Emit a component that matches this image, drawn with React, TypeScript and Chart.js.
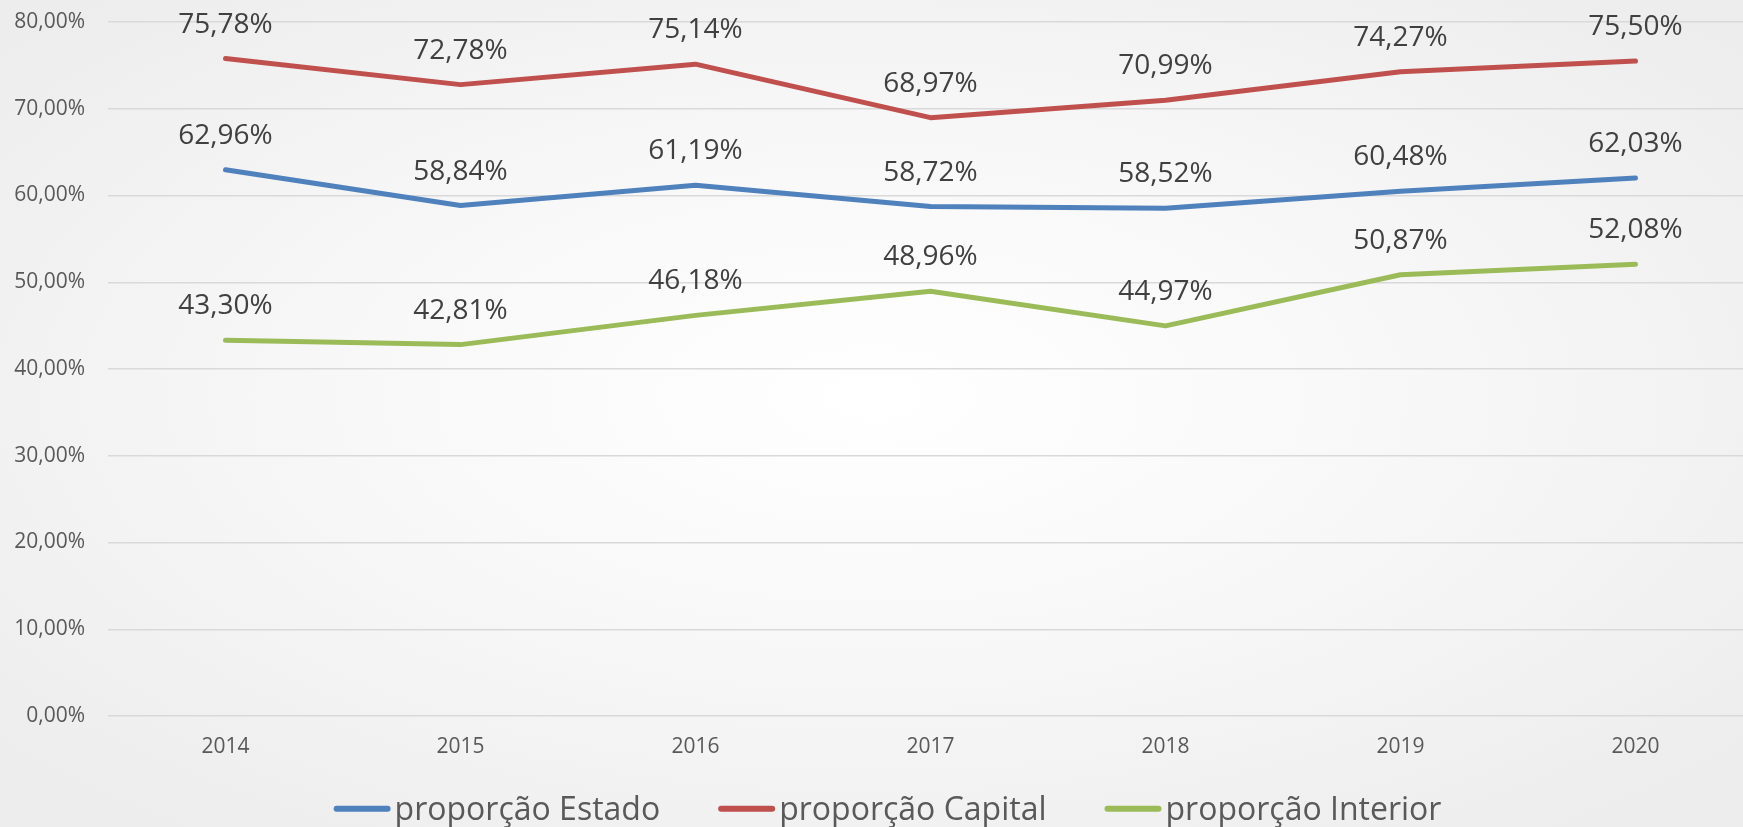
import React, { useEffect, useRef } from "react";
import { Chart, registerables } from "chart.js";

Chart.register(...registerables);

const categories = ["2014", "2015", "2016", "2017", "2018", "2019", "2020"];
const estado = [62.96, 58.84, 61.19, 58.72, 58.52, 60.48, 62.03];
const capital = [75.78, 72.78, 75.14, 68.97, 70.99, 74.27, 75.5];
const interior = [43.3, 42.81, 46.18, 48.96, 44.97, 50.87, 52.08];
const seriesLabels = ["proporção Estado", "proporção Capital", "proporção Interior"];
const seriesColors = ["#4F81BD", "#C0504D", "#9BBB59"];

const FONT = "'Open Sans', 'DejaVu Sans', sans-serif";

const fmt = (v: number) => v.toFixed(2).replace(".", ",") + "%";

const dataLabelPlugin = {
  id: "dataLabels",
  afterDatasetsDraw(chart: any) {
    const ctx = chart.ctx;
    ctx.save();
    ctx.font = `28px ${FONT}`;
    ctx.fillStyle = "#404040";
    ctx.textAlign = "center";
    ctx.textBaseline = "alphabetic";
    chart.data.datasets.forEach((ds: any, i: number) => {
      const meta = chart.getDatasetMeta(i);
      meta.data.forEach((pt: any, j: number) => {
        ctx.fillText(fmt(ds.data[j]), pt.x, pt.y - 26);
      });
    });
    ctx.restore();
  },
};

const legendPlugin = {
  id: "customLegend",
  afterDraw(chart: any) {
    const ctx = chart.ctx;
    ctx.save();
    ctx.font = `32px ${FONT}`;
    const lineW = 57;
    const gap = 4;
    const spacing = 58;
    const items = chart.data.datasets.map((ds: any) => ({
      label: ds.label,
      color: ds.borderColor,
      w: ctx.measureText(ds.label).width,
    }));
    const total =
      items.reduce((s: number, it: any) => s + lineW + gap + it.w, 0) + spacing * (items.length - 1);
    let x = 887.5 - total / 2;
    const lineY = 808.7;
    const baseY = 820;
    items.forEach((it: any) => {
      ctx.strokeStyle = it.color;
      ctx.lineWidth = 6;
      ctx.lineCap = "round";
      ctx.beginPath();
      ctx.moveTo(x + 3, lineY);
      ctx.lineTo(x + lineW - 3, lineY);
      ctx.stroke();
      ctx.fillStyle = "#595959";
      ctx.textAlign = "left";
      ctx.textBaseline = "alphabetic";
      ctx.fillText(it.label, x + lineW + gap, baseY);
      x += lineW + gap + it.w + spacing;
    });
    ctx.restore();
  },
};

export default function App() {
  const ref = useRef<HTMLCanvasElement | null>(null);

  useEffect(() => {
    if (!ref.current) return;
    const seriesData = [estado, capital, interior];
    const chart = new Chart(ref.current, {
      type: "line",
      data: {
        labels: categories,
        datasets: seriesData.map((d, i) => ({
          label: seriesLabels[i],
          data: d,
          borderColor: seriesColors[i],
          backgroundColor: seriesColors[i],
          borderWidth: 5,
          borderCapStyle: "round",
          borderJoinStyle: "round",
          pointRadius: 0,
          tension: 0,
          fill: false,
        })),
      },
      options: {
        animation: false,
        responsive: false,
        maintainAspectRatio: false,
        layout: { padding: { top: 22, left: 0, right: 0, bottom: 0 } },
        plugins: {
          legend: { display: false },
          tooltip: { enabled: false },
        },
        scales: {
          x: {
            type: "category",
            offset: true,
            grid: { display: false, drawTicks: false },
            border: { display: false },
            ticks: {
              color: "#595959",
              font: { family: FONT, size: 21 },
              padding: 18,
              maxRotation: 0,
            },
            afterFit(scale: any) {
              scale.height = 111;
            },
          },
          y: {
            min: 0,
            max: 80,
            grid: {
              color: "#d9d9d9",
              lineWidth: 1.5,
              drawTicks: true,
              tickLength: 23,
              tickColor: "rgba(0,0,0,0)",
            },
            border: { display: false },
            ticks: {
              stepSize: 10,
              color: "#595959",
              font: { family: FONT, size: 21 },
              padding: 0,
              callback: (v: any) => fmt(Number(v)),
            },
            afterFit(scale: any) {
              scale.width = 108;
            },
          },
        },
      },
      plugins: [dataLabelPlugin, legendPlugin],
    } as any);
    return () => chart.destroy();
  }, []);

  return (
    <div
      style={{
        position: "absolute",
        left: 0,
        top: 0,
        width: 1743,
        height: 827,
        overflow: "hidden",
        background:
          "radial-gradient(ellipse 65% 65% at 50% 48%, #ffffff 0%, #f8f8f8 45%, #ededed 100%)",
      }}
    >
      <canvas ref={ref} width={1753} height={827} style={{ display: "block" }} />
    </div>
  );
}
